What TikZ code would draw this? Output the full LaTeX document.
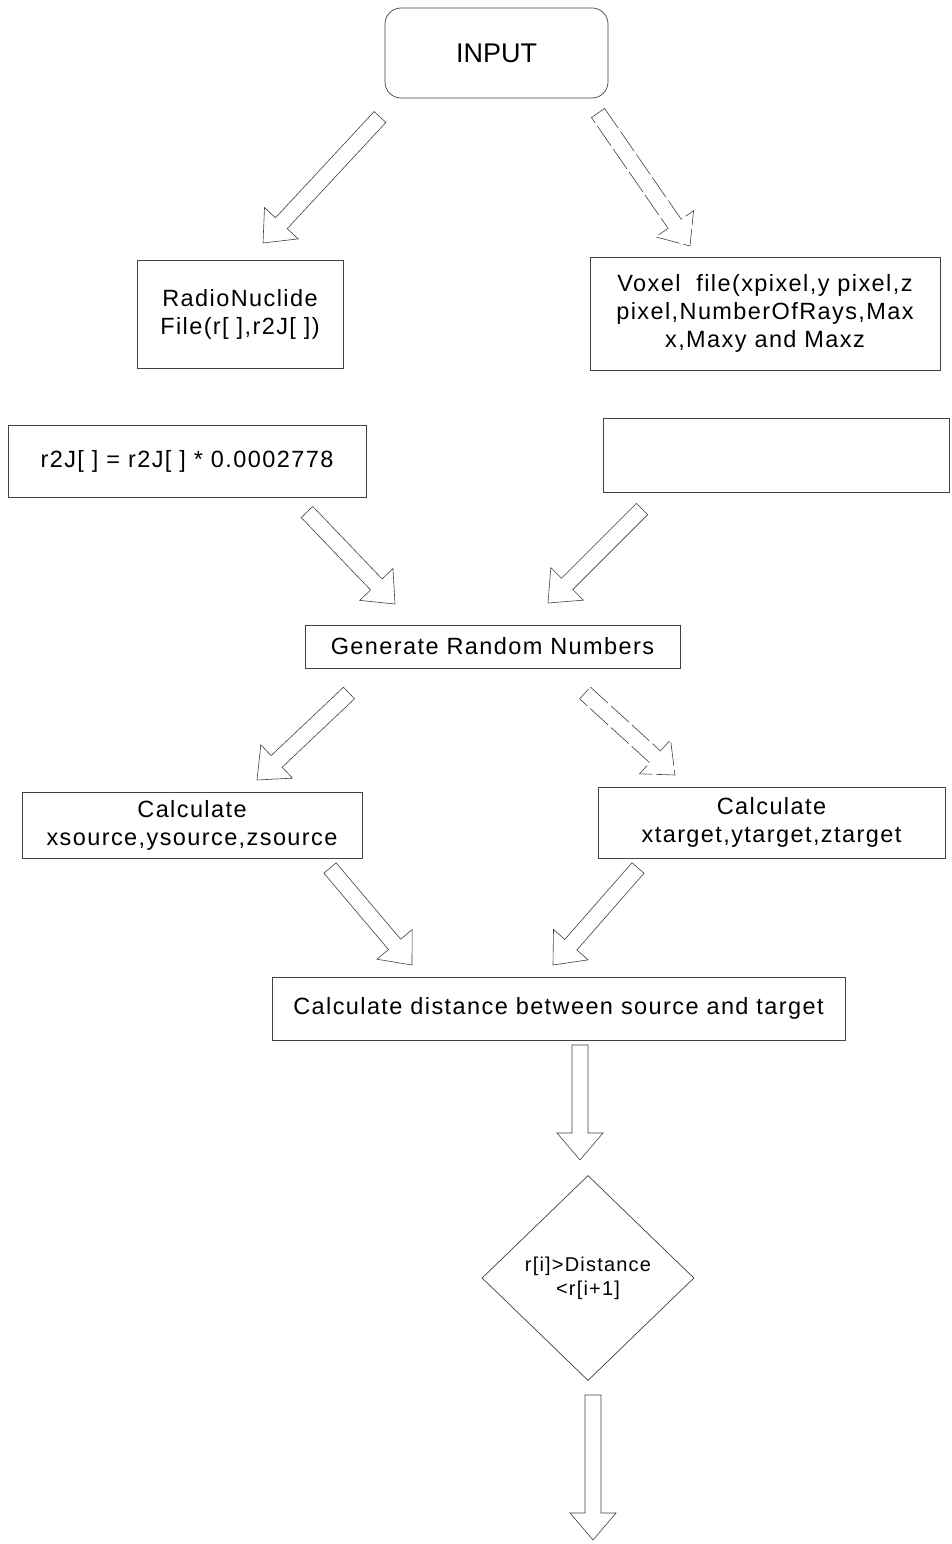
\documentclass[tikz,border=0pt]{standalone}
\usepackage{fontspec}
\setmainfont{Liberation Sans}
\usetikzlibrary{calc,shapes.geometric}
\newfontfamily\txtfont[LetterSpace=6]{Liberation Sans}
\def\bahw{8pt}
\def\bhhw{23pt}
\def\bahl{27pt}
\newcommand\barrow[3][]{%
  \coordinate (babase) at ($(#3)!\bahl!(#2)$);
  \draw[barrowstyle,#1] ($(#2)!\bahw!90:(#3)$) -- ($(babase)!\bahw!90:(#3)$)
    -- ($(babase)!\bhhw!90:(#3)$) -- (#3) -- ($(babase)!\bhhw!-90:(#3)$)
    -- ($(babase)!\bahw!-90:(#3)$) -- ($(#2)!\bahw!-90:(#3)$) -- cycle;
}
\tikzset{
  box/.style={draw=black!75, line width=0.7pt, inner sep=0pt, align=center,
    font=\txtfont\fontsize{23.5}{28}\selectfont},
  barrowstyle/.style={draw=black!75, line width=0.6pt, line join=miter},
  dashy/.style={dash pattern=on 24pt off 4pt},
}
\begin{document}
\begin{tikzpicture}[x=1pt,y=-1pt]
\useasboundingbox (0,0) rectangle (951,1544);
\node[box, rounded corners=16pt, minimum width=223pt, minimum height=90pt,
  font=\fontsize{27}{32}\selectfont] (input) at (496.5,53) {INPUT};
\node[box, minimum width=206pt, minimum height=108pt] (radio) at (240,314)
  {RadioNuclide\\File(r[ ],r2J[ ])};
\node[box, minimum width=350pt, minimum height=113pt] (voxel) at (765,313.5)
  {Voxel\ \ file(xpixel,y pixel,z\\pixel,NumberOfRays,Max\\x,Maxy and Maxz};
\node[box, minimum width=358pt, minimum height=72pt] (r2j) at (187,461)
  {r2J[ ] = r2J[ ] * 0.0002778};
\node[box, minimum width=346pt, minimum height=74pt] (empty) at (776,455) {};
\node[box, minimum width=375pt, minimum height=43pt] (gen) at (492.5,646.5)
  {Generate Random Numbers};
\node[box, minimum width=340pt, minimum height=66pt] (lcalc) at (192,825)
  {Calculate\\xsource,ysource,zsource};
\node[box, minimum width=347pt, minimum height=71pt] (rcalc) at (771.5,822.5)
  {Calculate\\xtarget,ytarget,ztarget};
\node[box, minimum width=573pt, minimum height=63pt] (dist) at (558.5,1008.5)
  {Calculate distance between source and target};
\node[box, diamond, minimum width=212pt, minimum height=205pt,
  font=\txtfont\fontsize{20}{24}\selectfont] (dec) at (588,1278)
  {r[i]>Distance\\<r[i+1]};

\coordinate (a1s) at (380,117);  \coordinate (a1e) at (263,243);
\coordinate (a2s) at (598,113);  \coordinate (a2e) at (690,246);
\coordinate (a3s) at (307,512);  \coordinate (a3e) at (395,604);
\coordinate (a4s) at (642,509);  \coordinate (a4e) at (548,603);
\coordinate (a5s) at (349,693);  \coordinate (a5e) at (257,780);
\coordinate (a6s) at (585,693);  \coordinate (a6e) at (675,775);
\coordinate (a7s) at (330,868);  \coordinate (a7e) at (412,965);
\coordinate (a8s) at (638,868);  \coordinate (a8e) at (553,965);
\coordinate (a9s) at (580,1045); \coordinate (a9e) at (580,1160);
\coordinate (a10s) at (593,1395); \coordinate (a10e) at (593,1540);
\barrow{a1s}{a1e}
\barrow[dashy]{a2s}{a2e}
\barrow{a3s}{a3e}
\barrow{a4s}{a4e}
\barrow{a5s}{a5e}
\barrow[dashy]{a6s}{a6e}
\barrow{a7s}{a7e}
\barrow{a8s}{a8e}
\barrow{a9s}{a9e}
\barrow{a10s}{a10e}
\end{tikzpicture}
\end{document}
